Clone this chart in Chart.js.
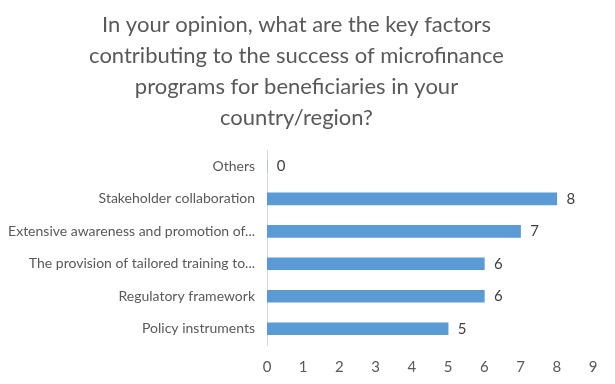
<!DOCTYPE html>
<html>
<head>
<meta charset="utf-8">
<script src="https://cdn.jsdelivr.net/npm/chart.js@4"></script>
<style>
  html, body { margin: 0; padding: 0; background: #ffffff; }
  #wrap { width: 615px; height: 384px; position: relative; }
</style>
</head>
<body>
<div id="wrap"><canvas id="chart"></canvas></div>
<script>
const categories = [
    'Others',
    'Stakeholder collaboration',
    'Extensive awareness and promotion of...',
    'The provision of tailored training to...',
    'Regulatory framework',
    'Policy instruments'
];
const counts = [0, 8, 7, 6, 6, 5];
const xTicks = [0, 1, 2, 3, 4, 5, 6, 7, 8, 9];
const titleLines = [
    'In your opinion, what are the key factors',
    'contributing to the success of microfinance',
    'programs for beneficiaries in your',
    'country/region?'
];

const FONT = 'Lato, "Open Sans", sans-serif';
const BAR_COLOR = '#5b9bd5';
const TEXT_COLOR = '#595959';

// draws the value next to the end of each bar
const valueLabels = {
    id: 'valueLabels',
    afterDatasetsDraw(chart) {
        const ctx = chart.ctx;
        const meta = chart.getDatasetMeta(0);
        ctx.save();
        ctx.font = '15px ' + FONT;
        ctx.fillStyle = '#404040';
        ctx.textAlign = 'center';
        ctx.textBaseline = 'middle';
        meta.data.forEach((bar, i) => {
            ctx.fillText(String(counts[i]), bar.x + 14, bar.y);
        });
        ctx.restore();
    }
};

new Chart(document.getElementById('chart').getContext('2d'), {
    type: 'bar',
    data: {
        labels: categories,
        datasets: [{
            data: counts,
            backgroundColor: BAR_COLOR,
            barThickness: 12
        }]
    },
    options: {
        indexAxis: 'y', // horizontal bars
        responsive: true,
        maintainAspectRatio: false,
        animation: false,
        layout: { padding: { left: 0, right: 22, top: 9, bottom: 3 } },
        scales: {
            x: {
                min: 0,
                max: 9,
                afterBuildTicks: (scale) => { scale.ticks = xTicks.map(v => ({ value: v })); },
                grid: { display: false },
                border: { display: false },
                ticks: { color: TEXT_COLOR, font: { family: FONT, size: 15 }, padding: 5 }
            },
            y: {
                grid: { display: false, drawTicks: false },
                border: { display: true, color: '#d9d9d9' },
                afterFit: (scale) => { scale.width = 267; },
                ticks: { color: TEXT_COLOR, font: { family: FONT, size: 14 }, padding: 12 }
            }
        },
        plugins: {
            legend: { display: false },
            tooltip: { enabled: false },
            title: {
                display: true,
                text: titleLines,
                color: TEXT_COLOR,
                font: { family: FONT, size: 22, weight: 'normal', lineHeight: 1.41 },
                padding: { top: 0, bottom: 17 }
            }
        }
    },
    plugins: [valueLabels]
});
</script>
</body>
</html>
